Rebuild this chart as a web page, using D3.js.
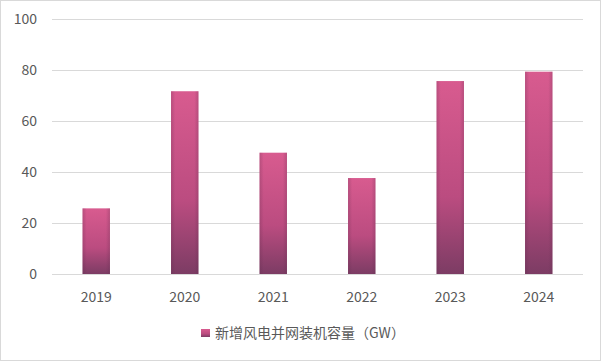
<!DOCTYPE html>
<html><head><meta charset="utf-8">
<script src="https://cdn.jsdelivr.net/npm/d3@7"></script>
<style>body{margin:0;background:#fff}svg{display:block}text{font-family:"Noto Sans CJK SC","Noto Sans",sans-serif}</style>
</head><body><svg id="c" width="601" height="361"></svg>
<script>
const categories = ["2019","2020","2021","2022","2023","2024"];
const values = [25.74, 71.67, 47.57, 37.63, 75.66, 79.34];
const yTicks = [0,20,40,60,80,100];
const seriesName = "新增风电并网装机容量（GW）";

const svg = d3.select("#c");
svg.append("rect").attr("x",0.5).attr("y",0.5).attr("width",600).attr("height",360)
  .attr("fill","#fff").attr("stroke","#d9d9d9");

const defs = svg.append("defs");
const g1 = defs.append("linearGradient").attr("id","bg").attr("x1",0).attr("y1",0).attr("x2",0).attr("y2",1);
g1.append("stop").attr("offset","0%").attr("stop-color","#d85b8f");
g1.append("stop").attr("offset","60%").attr("stop-color","#bb4c80");
g1.append("stop").attr("offset","100%").attr("stop-color","#7c3c64");
const g2 = defs.append("linearGradient").attr("id","bh").attr("x1",0).attr("y1",0).attr("x2",1).attr("y2",0);
g2.append("stop").attr("offset","0%").attr("stop-color","#5a2a4a").attr("stop-opacity",0.25);
g2.append("stop").attr("offset","15%").attr("stop-color","#5a2a4a").attr("stop-opacity",0);
g2.append("stop").attr("offset","85%").attr("stop-color","#5a2a4a").attr("stop-opacity",0);
g2.append("stop").attr("offset","100%").attr("stop-color","#5a2a4a").attr("stop-opacity",0.25);

const x = d3.scaleBand().domain(categories).range([52,583]).paddingInner(0.69).paddingOuter(0.345);
const y = d3.scaleLinear().domain([0,100]).range([274,19]);

const grid = svg.append("g");
grid.selectAll("line").data(yTicks).join("line")
  .attr("x1",52).attr("x2",583).attr("y1",d=>Math.round(y(d))+0.5).attr("y2",d=>Math.round(y(d))+0.5)
  .attr("stroke","#d9d9d9").attr("stroke-width",1);

const yAxis = d3.axisLeft(y).tickValues(yTicks).tickSize(0).tickPadding(0);
const ya = svg.append("g").attr("transform","translate(37,0)").call(yAxis);
ya.select(".domain").remove();
ya.selectAll("text").attr("font-size",14).attr("fill","#595959").attr("dy","0.35em");

const bars = svg.append("g");
bars.selectAll("rect.b").data(values).join("rect").attr("class","b")
  .attr("x",(d,i)=>x(categories[i])).attr("width",x.bandwidth())
  .attr("y",d=>y(d)).attr("height",d=>y(0)-y(d)).attr("fill","url(#bg)");
bars.selectAll("rect.h").data(values).join("rect").attr("class","h")
  .attr("x",(d,i)=>x(categories[i])).attr("width",x.bandwidth())
  .attr("y",d=>y(d)).attr("height",d=>y(0)-y(d)).attr("fill","url(#bh)");

const xAxis = d3.axisBottom(x).tickSize(0).tickPadding(0);
const xa = svg.append("g").attr("transform","translate(0,297)").call(xAxis);
xa.select(".domain").remove();
xa.selectAll("text").attr("font-size",14).attr("fill","#595959").attr("dy","0.35em");

const lg = svg.append("g");
lg.append("rect").attr("x",201).attr("y",329).attr("width",9).attr("height",8).attr("fill","url(#bg)");
lg.append("text").attr("x",215).attr("y",333).attr("dy","0.35em").attr("font-size",14).attr("fill","#595959").text(seriesName);
</script></body></html>
